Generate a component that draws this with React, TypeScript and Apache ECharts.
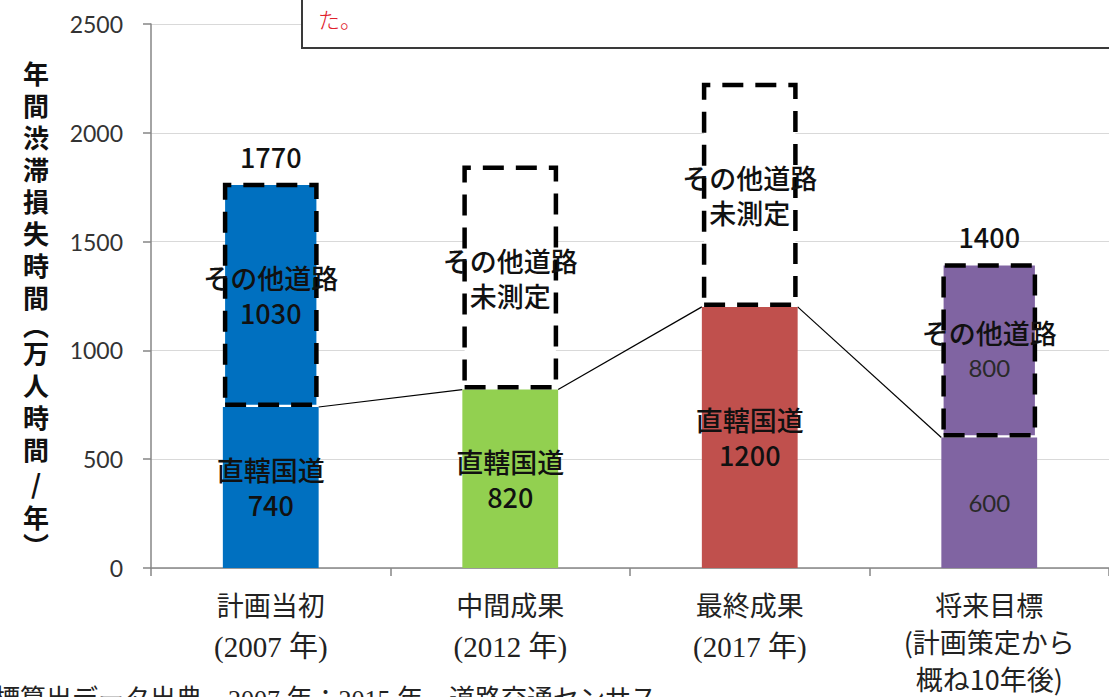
import React, { useEffect, useRef } from "react";
import * as echarts from "echarts";

const categories = ["計画当初", "中間成果", "最終成果", "将来目標"];
const categorySub = ["(2007 年)", "(2012 年)", "(2017 年)", "(計画策定から\n概ね10年後)"];
const directValues = [740, 820, 1200, 600];
const otherValues = [1030, 1030, 1030, 800];
const otherMeasured = [true, false, false, true];
const totalShown = [true, false, false, true];
const directLabelTitle = ["直轄国道", "直轄国道", "直轄国道", ""];
const numberStyle = ["n", "n", "n", "m"];
const directColors = ["#0070C0", "#92D050", "#C0504D", "#8064A2"];
const otherColors = ["#0070C0", "#FFFFFF", "#FFFFFF", "#8064A2"];
const axisTitleChars = ["年", "間", "渋", "滞", "損", "失", "時", "間", "︵", "万", "人", "時", "間", "/", "年", "︶"];
const noteText = "た。";
const sourceText = "標算出データ出典　2007 年：2015 年　道路交通センサス";

const CJK = '"Noto Sans CJK JP", sans-serif';
const SERIF = '"Liberation Serif", "Noto Sans CJK JP", serif';
const NUM = 'Lato, "Noto Sans", sans-serif';
const BAR_FRACTION = 0.4;

export default function App() {
  const ref = useRef<HTMLDivElement>(null);
  useEffect(() => {
    if (!ref.current) return;
    const chart = echarts.init(ref.current, null, { renderer: "svg" });
    const half = BAR_FRACTION / 2;
    const lineSeries = [0, 1, 2].map((i) => ({
      type: "line",
      xAxisIndex: 1,
      yAxisIndex: 0,
      symbol: "none",
      silent: true,
      z: 1,
      lineStyle: { color: "#000", width: 1.2 },
      data: [
        [i + 0.5 + half, directValues[i]],
        [i + 1.5 - half, directValues[i + 1]],
      ],
    }));
    const labelRich = {
      t: { fontFamily: CJK, fontSize: 27, fontWeight: 500, color: "#111", lineHeight: 35 },
      n: { fontFamily: CJK, fontSize: 27, fontWeight: 500, color: "#111", lineHeight: 35 },
      m: { fontFamily: NUM, fontSize: 24, color: "#2a2a2a", lineHeight: 35 },
    };
    const base = { fontSize: 26, fontWeight: "bold", fontFamily: CJK, fill: "#111", color: "#111", align: "center" };
    const axisTitleRich: any = {
      c: { ...base, lineHeight: 32 },
      p: { ...base, lineHeight: 24 },
      s: { ...base, lineHeight: 36 },
    };
    const axisTitleText = axisTitleChars
      .map((c) => (c === "︵" || c === "︶" ? `{p|${c}}` : c === "/" ? `{s|${c}}` : `{c|${c}}`))
      .join("\n");

    chart.setOption({
      animation: false,
      grid: { left: 151, right: -6, top: 24, bottom: 129, containLabel: false },
      xAxis: [
        {
          type: "category",
          data: categories,
          axisLine: { lineStyle: { color: "#868686", width: 1.5 } },
          axisTick: { show: true, length: 8, lineStyle: { color: "#868686", width: 1.5 } },
          axisLabel: {
            interval: 0,
            margin: 17,
            formatter: (v: string, idx: number) => {
              const subs = categorySub[idx].split("\n");
              if (subs.length === 1) return `{g|${v}}\n{s|${subs[0]}}`;
              return `{g|${v}}\n` + subs.map((s) => `{h|${s}}`).join("\n");
            },
            rich: {
              g: { fontFamily: CJK, fontSize: 27, color: "#222", lineHeight: 38 },
              h: { fontFamily: CJK, fontSize: 27, color: "#222", lineHeight: 37 },
              s: { fontFamily: SERIF, fontSize: 29, color: "#222", lineHeight: 48 },
            },
          },
        },
        { type: "value", min: 0, max: 4, show: false },
      ],
      yAxis: {
        type: "value",
        min: 0,
        max: 2500,
        interval: 500,
        axisLine: { show: true, lineStyle: { color: "#868686", width: 1.5 } },
        axisTick: { show: true, length: 8, lineStyle: { color: "#868686", width: 1.5 } },
        splitLine: { lineStyle: { color: "#d9d9d9", width: 1.2 } },
        axisLabel: {
          fontFamily: NUM,
          fontSize: 23,
          color: "#333",
          margin: 28,
          formatter: (v: number) => String(v),
        },
      },
      series: [
        ...lineSeries,
        {
          type: "bar",
          stack: "road",
          barWidth: `${BAR_FRACTION * 100}%`,
          data: directValues.map((v, i) => ({
            value: v,
            itemStyle: { color: directColors[i] },
          })),
          label: {
            show: true,
            position: "inside",
            formatter: (p: any) => {
              const i = p.dataIndex;
              const num = `{${numberStyle[i]}|${p.value}}`;
              return directLabelTitle[i] ? `{t|${directLabelTitle[i]}}\n${num}` : num;
            },
            rich: labelRich,
          },
        },
        {
          type: "bar",
          stack: "road",
          barWidth: `${BAR_FRACTION * 100}%`,
          data: otherValues.map((v, i) => ({
            value: v,
            itemStyle: {
              color: otherColors[i],
              borderColor: "#000",
              borderWidth: 4.5,
              borderType: [21, 12],
            },
          })),
          label: {
            show: true,
            position: "inside",
            formatter: (p: any) => {
              const i = p.dataIndex;
              if (!otherMeasured[i]) return `{t|その他道路}\n{t|未測定}`;
              return `{t|その他道路}\n{${numberStyle[i]}|${p.value}}`;
            },
            rich: labelRich,
          },
        },
        {
          type: "bar",
          barWidth: `${BAR_FRACTION * 100}%`,
          barGap: "-100%",
          silent: true,
          z: 0,
          itemStyle: { color: "rgba(0,0,0,0)" },
          data: directValues.map((v, i) => (totalShown[i] ? v + otherValues[i] : "-")),
          label: {
            show: true,
            position: "top",
            distance: 13,
            fontFamily: CJK,
            fontSize: 27,
            fontWeight: 500,
            color: "#111",
          },
        },
      ],
      graphic: [
        {
          type: "rect",
          z: 100,
          shape: { x: 302, y: -10, width: 840, height: 58 },
          style: { fill: "#fff", stroke: "#3a3a3a", lineWidth: 2 },
        },
        {
          type: "text",
          z: 101,
          x: 318,
          y: 18,
          style: {
            text: noteText,
            fill: "#e0202a",
            fontSize: 22,
            fontFamily: CJK,
            fontWeight: 300,
            verticalAlign: "middle",
          },
        },
        {
          type: "text",
          z: 101,
          x: 36,
          y: 56,
          style: {
            text: axisTitleText,
            rich: axisTitleRich,
            fill: "#111",
            fontSize: 26,
            fontWeight: "bold",
            fontFamily: CJK,
            align: "center",
            verticalAlign: "top",
          },
        },
        {
          type: "text",
          z: 101,
          x: -6,
          y: 699,
          style: {
            text: sourceText,
            fill: "#222",
            fontSize: 26,
            fontFamily: SERIF,
            verticalAlign: "middle",
          },
        },
      ],
    });
    return () => chart.dispose();
  }, []);
  return (
    <div
      ref={ref}
      style={{ position: "fixed", left: 0, top: 0, width: 1109, height: 697, background: "#fff" }}
    />
  );
}
